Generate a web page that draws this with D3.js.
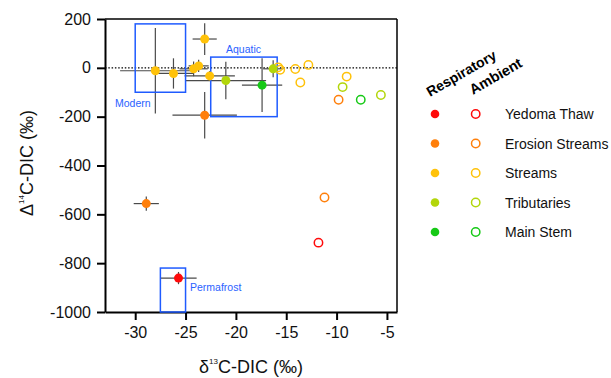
<!DOCTYPE html>
<html>
<head>
<meta charset="UTF-8">
<script src="https://cdn.jsdelivr.net/npm/d3@7"></script>
<style>
body{
    margin:0;
    background-color:#fff;
    font-family: "Liberation Sans", Arial, sans-serif;
}
.axis path, .axis line{
    stroke:#000;
    stroke-width:2;
}
.axis text{
    font-size:16px;
    fill:#111;
}
</style>
</head>
<body>
<script>

// sample groups
var groups = ["Yedoma Thaw", "Erosion Streams", "Streams", "Tributaries", "Main Stem"];
var colors = ["#ff0a0a", "#ff7f0a", "#ffc20a", "#b2d60a", "#16c916"];

// respiratory (filled) : group index, d13C, D14C, x error, y error
var respiratory = [
    {g:0, x:-25.7, y:-861, xe:1.8, ye:25},
    {g:1, x:-28.9, y:-556, xe:1.25, ye:29},
    {g:1, x:-23.1, y:-194, xe:3.2, ye:95},
    {g:2, x:-28.0, y:-12, xe:3.5, ye:175},
    {g:2, x:-26.2, y:-23, xe:2.0, ye:62},
    {g:2, x:-24.2, y:-4, xe:1.4, ye:30},
    {g:2, x:-23.7, y:8, xe:1.0, ye:25},
    {g:2, x:-23.1, y:118, xe:1.2, ye:65},
    {g:2, x:-22.6, y:-33, xe:2.5, ye:20},
    {g:3, x:-21.0, y:-52, xe:4.0, ye:77},
    {g:3, x:-16.3, y:-4, xe:1.0, ye:35},
    {g:4, x:-17.4, y:-71, xe:2.0, ye:110}
];

// ambient (open)
var ambient = [
    {g:0, x:-11.8, y:-716},
    {g:1, x:-11.2, y:-531},
    {g:1, x:-9.8, y:-131},
    {g:2, x:-15.8, y:2},
    {g:2, x:-15.6, y:-8},
    {g:2, x:-14.1, y:-5},
    {g:2, x:-12.8, y:12},
    {g:2, x:-13.6, y:-60},
    {g:2, x:-9.0, y:-36},
    {g:3, x:-9.4, y:-79},
    {g:3, x:-5.6, y:-111},
    {g:4, x:-7.6, y:-131}
];

// end-member boxes
var boxNames = ["Modern", "Aquatic", "Permafrost"];
var boxX = [[-30, -25], [-22.5, -15.9], [-27.5, -25]];
var boxY = [[-100, 180], [-200, 44], [-1000, -820]];

var xTicks = [-30, -25, -20, -15, -10, -5];
var yTicks = [200, 0, -200, -400, -600, -800, -1000];

var width = 611, height = 378;
var margin = {top: 19, right: 214, bottom: 66, left: 105};

var x = d3.scaleLinear().domain([-33, -4]).range([margin.left, width - margin.right]);
var y = d3.scaleLinear().domain([-1000, 200]).range([height - margin.bottom, margin.top]);

var svg = d3.select("body").append("svg")
    .attr("width", width)
    .attr("height", height);

// frame top / right
svg.append("line")
    .attr("x1", x(-33)).attr("x2", x(-4))
    .attr("y1", y(200)).attr("y2", y(200))
    .attr("stroke", "#000").attr("stroke-width", 1.5);
svg.append("line")
    .attr("x1", x(-4)).attr("x2", x(-4))
    .attr("y1", y(200)).attr("y2", y(-1000))
    .attr("stroke", "#000").attr("stroke-width", 1.5);

// zero line
svg.append("line")
    .attr("x1", x(-33)).attr("x2", x(-4))
    .attr("y1", y(0)).attr("y2", y(0))
    .attr("stroke", "#000").attr("stroke-width", 1.2)
    .attr("stroke-dasharray", "1.5,1.8");

svg.append("g")
    .attr("class", "axis")
    .attr("transform", "translate(0," + y(-1000) + ")")
    .call(d3.axisBottom(x).tickValues(xTicks).tickFormat(function(d){ return String(d); })
        .tickSize(8).tickSizeOuter(0).tickPadding(7));

svg.append("g")
    .attr("class", "axis")
    .attr("transform", "translate(" + x(-33) + ",0)")
    .call(d3.axisLeft(y).tickValues(yTicks).tickFormat(function(d){ return String(d); })
        .tickSize(8).tickSizeOuter(0).tickPadding(6));

// error bars
var eb = svg.append("g").attr("stroke", "#4a4a4a").attr("stroke-width", 1.2);
respiratory.forEach(function(d){
    eb.append("line")
        .attr("x1", x(d.x - d.xe)).attr("x2", x(d.x + d.xe))
        .attr("y1", y(d.y)).attr("y2", y(d.y));
    eb.append("line")
        .attr("x1", x(d.x)).attr("x2", x(d.x))
        .attr("y1", y(d.y - d.ye)).attr("y2", y(d.y + d.ye));
});

// boxes
boxNames.forEach(function(n, i){
    svg.append("rect")
        .attr("x", x(boxX[i][0]))
        .attr("y", y(boxY[i][1]))
        .attr("width", x(boxX[i][1]) - x(boxX[i][0]))
        .attr("height", y(boxY[i][0]) - y(boxY[i][1]))
        .attr("fill", "none")
        .attr("stroke", "#1f5bff")
        .attr("stroke-width", 1.5);
});
var boxLabel = svg.append("g").attr("fill", "#2a62ff").attr("font-size", 10.5);
boxLabel.append("text")
    .attr("x", 115).attr("y", 106.5)
    .text("Modern");
boxLabel.append("text")
    .attr("x", 243.5).attr("y", 52.5)
    .attr("text-anchor", "middle")
    .text("Aquatic");
boxLabel.append("text")
    .attr("x", 190).attr("y", 291)
    .text("Permafrost");

// points
svg.selectAll(".amb")
    .data(ambient)
    .enter().append("circle")
    .attr("cx", function(d){ return x(d.x); })
    .attr("cy", function(d){ return y(d.y); })
    .attr("r", 4.2)
    .attr("fill", "none")
    .attr("stroke", function(d){ return colors[d.g]; })
    .attr("stroke-width", 1.5);

svg.selectAll(".resp")
    .data(respiratory)
    .enter().append("circle")
    .attr("cx", function(d){ return x(d.x); })
    .attr("cy", function(d){ return y(d.y); })
    .attr("r", 4.5)
    .attr("fill", function(d){ return colors[d.g]; });

// legend
var lg = svg.append("g");
lg.append("text")
    .attr("transform", "translate(430,97) rotate(-30)")
    .attr("font-size", 14).attr("font-weight", "bold")
    .text("Respiratory");
lg.append("text")
    .attr("transform", "translate(473,95) rotate(-30)")
    .attr("font-size", 14.5).attr("font-weight", "bold")
    .text("Ambient");

groups.forEach(function(g, i){
    var yy = 114 + i * 29.5;
    lg.append("circle").attr("cx", 435).attr("cy", yy).attr("r", 4.3).attr("fill", colors[i]);
    lg.append("circle").attr("cx", 475.7).attr("cy", yy).attr("r", 4.2)
        .attr("fill", "none").attr("stroke", colors[i]).attr("stroke-width", 1.5);
    lg.append("text").attr("x", 505).attr("y", yy + 5).attr("font-size", 14).attr("fill", "#111").text(g);
});

// axis titles
var xt = svg.append("text")
    .attr("x", 251).attr("y", 373)
    .attr("text-anchor", "middle")
    .attr("font-size", 18).attr("fill", "#111");
xt.append("tspan").text("δ");
xt.append("tspan").attr("font-size", 8).attr("dy", -9).text("13");
xt.append("tspan").attr("dy", 9).text("C-DIC (‰)");

var yt = svg.append("text")
    .attr("transform", "translate(33,163) rotate(-90)")
    .attr("text-anchor", "middle")
    .attr("font-size", 18).attr("fill", "#111");
yt.append("tspan").text("Δ");
yt.append("tspan").attr("font-size", 8).attr("dy", -9).text("14");
yt.append("tspan").attr("dy", 9).text("C-DIC (‰)");

</script>
</body>
</html>
